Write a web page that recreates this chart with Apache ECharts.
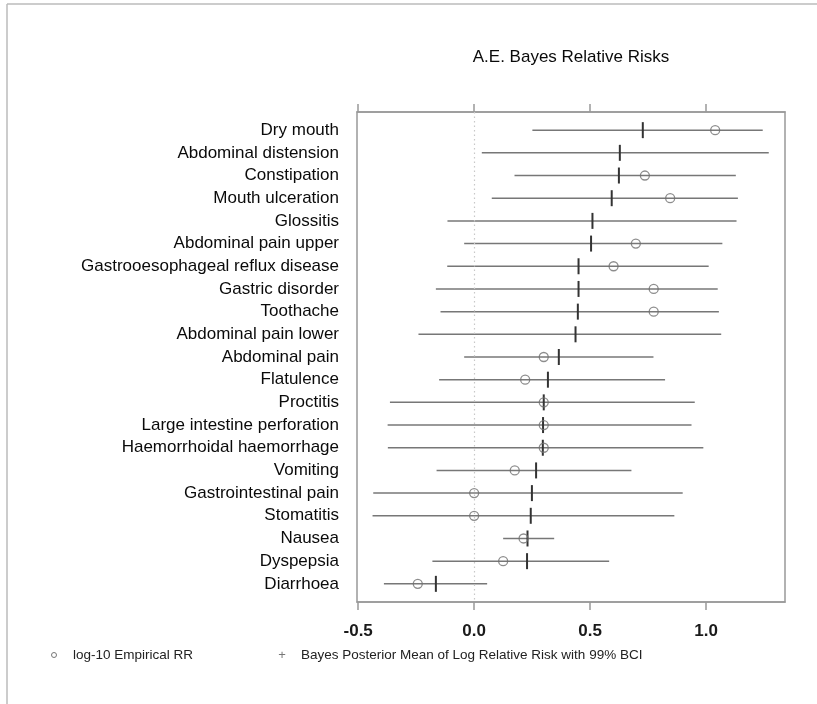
<!DOCTYPE html>
<html>
<head>
<meta charset="utf-8">
<script src="https://cdn.jsdelivr.net/npm/echarts@6/dist/echarts.min.js"></script>
<style>
html,body{margin:0;padding:0;background:#fff;}
#chart{width:817px;height:704px;}
</style>
</head>
<body>
<div id="chart"></div>
<script>
const categories = ['Dry mouth','Abdominal distension','Constipation','Mouth ulceration','Glossitis','Abdominal pain upper','Gastrooesophageal reflux disease','Gastric disorder','Toothache','Abdominal pain lower','Abdominal pain','Flatulence','Proctitis','Large intestine perforation','Haemorrhoidal haemorrhage','Vomiting','Gastrointestinal pain','Stomatitis','Nausea','Dyspepsia','Diarrhoea'];
const lower = [0.251,0.033,0.174,0.076,-0.115,-0.043,-0.116,-0.165,-0.145,-0.240,-0.043,-0.151,-0.363,-0.373,-0.372,-0.162,-0.435,-0.438,0.125,-0.180,-0.389];
const upper = [1.244,1.270,1.128,1.137,1.131,1.070,1.011,1.050,1.055,1.065,0.773,0.823,0.951,0.937,0.988,0.678,0.899,0.863,0.345,0.582,0.056];
const posteriorMean = [0.727,0.628,0.624,0.593,0.510,0.504,0.450,0.450,0.447,0.437,0.365,0.318,0.300,0.297,0.296,0.267,0.249,0.244,0.230,0.228,-0.165];
const empirical = [1.039,null,0.736,0.845,null,0.697,0.601,0.774,0.774,null,0.300,0.220,0.300,0.300,0.300,0.175,0.0,0.0,0.213,0.125,-0.243];
const xTicks = [-0.5, 0, 0.5, 1.0];

const rowPos = categories.map((c, i) => i + 1);
const ciData = categories.map((c, i) => [lower[i], upper[i], posteriorMean[i], rowPos[i]]);
const empData = categories.map((c, i) => empirical[i] == null ? null : [empirical[i], rowPos[i]]).filter(d => d);

const FONT = '"Liberation Sans", Arial, Helvetica, sans-serif';
const chart = echarts.init(document.getElementById('chart'));

const xBase = {
  type: 'value', min: -0.505, max: 1.34,
  axisLine: {show: true, lineStyle: {color: '#999', width: 1.5}},
  axisTick: {show: true, customValues: xTicks, length: 8, lineStyle: {color: '#999', width: 1.5}},
  splitLine: {show: false}
};

chart.setOption({
  animation: false,
  backgroundColor: '#fff',
  grid: {left: 357, right: 32, top: 112, bottom: 102, show: true, borderColor: '#999', borderWidth: 1.5, backgroundColor: 'transparent'},
  xAxis: [
    Object.assign({}, xBase, {
      position: 'bottom',
      axisLabel: {customValues: xTicks, formatter: v => v.toFixed(1), fontFamily: FONT, fontSize: 17, fontWeight: 'bold', color: '#1a1a1a', margin: 21}
    }),
    Object.assign({}, xBase, {
      position: 'top',
      axisLabel: {show: false}
    })
  ],
  yAxis: {
    type: 'value', inverse: true, min: 0.2, max: 21.8,
    axisLine: {show: false}, axisTick: {show: false}, splitLine: {show: false},
    axisLabel: {customValues: rowPos, formatter: v => categories[Math.round(v) - 1], fontFamily: FONT, fontSize: 17, color: '#0a0a0a', margin: 18}
  },
  graphic: [
    {type: 'line', shape: {x1: 7, y1: 4, x2: 817, y2: 4}, style: {stroke: '#bbb', lineWidth: 1.5}},
    {type: 'line', shape: {x1: 7, y1: 4, x2: 7, y2: 704}, style: {stroke: '#bbb', lineWidth: 1.5}},
    {type: 'text', x: 571, y: 57, style: {text: 'A.E. Bayes Relative Risks', font: '17px ' + FONT, fill: '#0a0a0a', align: 'center', verticalAlign: 'middle'}},
    {type: 'circle', shape: {cx: 54, cy: 655, r: 2.5}, style: {fill: 'none', stroke: '#777', lineWidth: 1}},
    {type: 'text', x: 73, y: 655, style: {text: 'log-10 Empirical RR', font: '13.5px ' + FONT, fill: '#222', verticalAlign: 'middle'}},
    {type: 'text', x: 282, y: 655, style: {text: '+', font: '13px ' + FONT, fill: '#777', align: 'center', verticalAlign: 'middle'}},
    {type: 'text', x: 301, y: 655, style: {text: 'Bayes Posterior Mean of Log Relative Risk with 99% BCI', font: '13.5px ' + FONT, fill: '#222', verticalAlign: 'middle'}}
  ],
  series: [
    {
      type: 'custom',
      name: 'Bayes Posterior Mean of Log Relative Risk with 99% BCI',
      data: ciData,
      encode: {x: [0, 1, 2], y: 3},
      renderItem: function (params, api) {
        const y = api.value(3);
        const p1 = api.coord([api.value(0), y]);
        const p2 = api.coord([api.value(1), y]);
        const pm = api.coord([api.value(2), y]);
        return {
          type: 'group',
          children: [
            {type: 'line', shape: {x1: p1[0], y1: p1[1], x2: p2[0], y2: p2[1]}, style: {stroke: '#777', lineWidth: 1.5}},
            {type: 'line', shape: {x1: pm[0], y1: pm[1] - 8, x2: pm[0], y2: pm[1] + 8}, style: {stroke: '#333', lineWidth: 2}}
          ]
        };
      },
      markLine: {
        silent: true, symbol: 'none', label: {show: false},
        lineStyle: {color: '#c8c8c8', type: [1.5, 3], width: 1.2},
        data: [{xAxis: 0}]
      },
      z: 2
    },
    {
      type: 'scatter',
      name: 'log-10 Empirical RR',
      data: empData,
      symbol: 'circle',
      symbolSize: 9,
      itemStyle: {color: 'rgba(255,255,255,0)', borderColor: '#707070', borderWidth: 1.3},
      z: 3
    }
  ]
});
</script>
</body>
</html>
